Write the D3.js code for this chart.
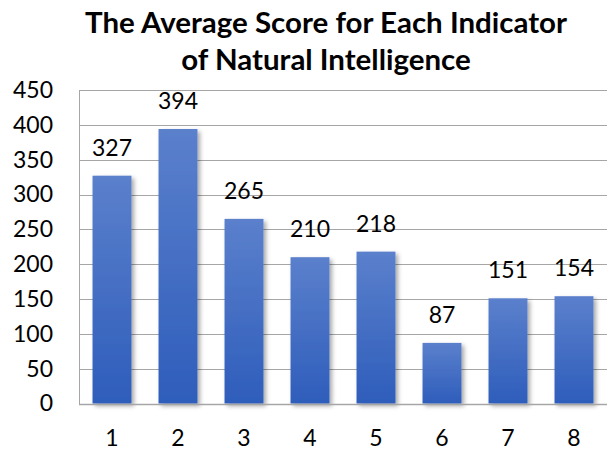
<!DOCTYPE html>
<html>
<head>
<meta charset="utf-8">
<script src="https://cdn.jsdelivr.net/npm/d3@7"></script>
<style>
  body { margin: 0; background: #fff; }
  text { font-family: Lato, "Open Sans", sans-serif; fill: #000; }
</style>
</head>
<body>
<div id="chart"></div>
<script>
const indicators = ["1", "2", "3", "4", "5", "6", "7", "8"];
const avgScores = [327, 394, 265, 210, 218, 87, 151, 154];
const yTicks = [0, 50, 100, 150, 200, 250, 300, 350, 400, 450];
const titleLines = ["The Average Score for Each Indicator", "of Natural Intelligence"];

const width = 609, height = 453;
const margin = { top: 90, right: 2, bottom: 49.5, left: 79 };
const innerW = width - margin.left - margin.right;
const innerH = height - margin.top - margin.bottom;

const data = indicators.map((k, i) => ({ key: k, value: avgScores[i] }));

const svg = d3.select("#chart").append("svg")
    .attr("width", width)
    .attr("height", height);

const defs = svg.append("defs");
const grad = defs.append("linearGradient")
    .attr("id", "barGrad")
    .attr("x1", 0).attr("y1", 0).attr("x2", 0).attr("y2", 1);
grad.append("stop").attr("offset", "0%").attr("stop-color", "#5b80cc");
grad.append("stop").attr("offset", "100%").attr("stop-color", "#2e5dbb");

const shadow = defs.append("filter")
    .attr("id", "shadow")
    .attr("x", "-20%").attr("y", "-20%").attr("width", "150%").attr("height", "150%");
shadow.append("feDropShadow")
    .attr("dx", 2.5).attr("dy", 2.5)
    .attr("stdDeviation", 2)
    .attr("flood-color", "#000")
    .attr("flood-opacity", 0.35);

const g = svg.append("g")
    .attr("transform", `translate(${margin.left},${margin.top})`);

const x = d3.scaleBand()
    .domain(indicators)
    .range([0, innerW])
    .paddingInner(0.41)
    .paddingOuter(0.205);

const y = d3.scaleLinear()
    .domain([0, 450])
    .range([innerH, 0]);

// gridlines
g.append("g")
    .selectAll("line")
    .data(yTicks)
    .enter()
    .append("line")
    .attr("x1", 0)
    .attr("x2", innerW)
    .attr("y1", d => Math.round(y(d)) + 0.5)
    .attr("y2", d => Math.round(y(d)) + 0.5)
    .attr("stroke", "#a6a6a6")
    .attr("stroke-width", 1);

// left axis line
g.append("line")
    .attr("x1", 0.5).attr("x2", 0.5)
    .attr("y1", Math.round(y(450)))
    .attr("y2", Math.round(y(0)) + 1)
    .attr("stroke", "#a6a6a6");

// y axis labels
const yAxis = g.append("g")
    .call(d3.axisLeft(y).tickValues(yTicks).tickSize(0).tickPadding(26));
yAxis.select(".domain").remove();
yAxis.selectAll("text")
    .style("font-family", "Lato, sans-serif")
    .style("font-size", "23px")
    .attr("fill", "#000");

// bars
g.append("g")
    .selectAll("rect")
    .data(data)
    .enter()
    .append("rect")
    .attr("x", d => x(d.key))
    .attr("y", d => y(d.value))
    .attr("width", x.bandwidth())
    .attr("height", d => innerH - y(d.value))
    .attr("fill", "url(#barGrad)")
    .attr("filter", "url(#shadow)");

// bottom axis line
g.append("line")
    .attr("x1", 0).attr("x2", innerW)
    .attr("y1", Math.round(y(0)) + 0.5)
    .attr("y2", Math.round(y(0)) + 0.5)
    .attr("stroke", "#a6a6a6")
    .attr("stroke-width", 1.5);

// value labels
g.append("g")
    .selectAll("text")
    .data(data)
    .enter()
    .append("text")
    .attr("x", d => x(d.key) + x.bandwidth() / 2)
    .attr("y", d => y(d.value) - 20)
    .attr("text-anchor", "middle")
    .style("font-size", "23px")
    .text(d => d.value);

// x labels
const xAxis = g.append("g")
    .attr("transform", `translate(0,${innerH})`)
    .call(d3.axisBottom(x).tickSize(0).tickPadding(26));
xAxis.select(".domain").remove();
xAxis.selectAll("text")
    .style("font-family", "Lato, sans-serif")
    .style("font-size", "23px")
    .attr("fill", "#000");

// title
const title = svg.append("text")
    .attr("x", 326)
    .attr("text-anchor", "middle")
    .style("font-weight", "bold")
    .style("font-size", "27px");
title.selectAll("tspan")
    .data(titleLines)
    .enter()
    .append("tspan")
    .attr("x", 326)
    .attr("y", (d, i) => 33 + i * 37)
    .text(d => d);

// fit title width to reference (~482px for first line)
const firstLen = title.select("tspan").node().getComputedTextLength();
title.style("font-size", (27 * 482 / firstLen).toFixed(2) + "px");
</script>
</body>
</html>
